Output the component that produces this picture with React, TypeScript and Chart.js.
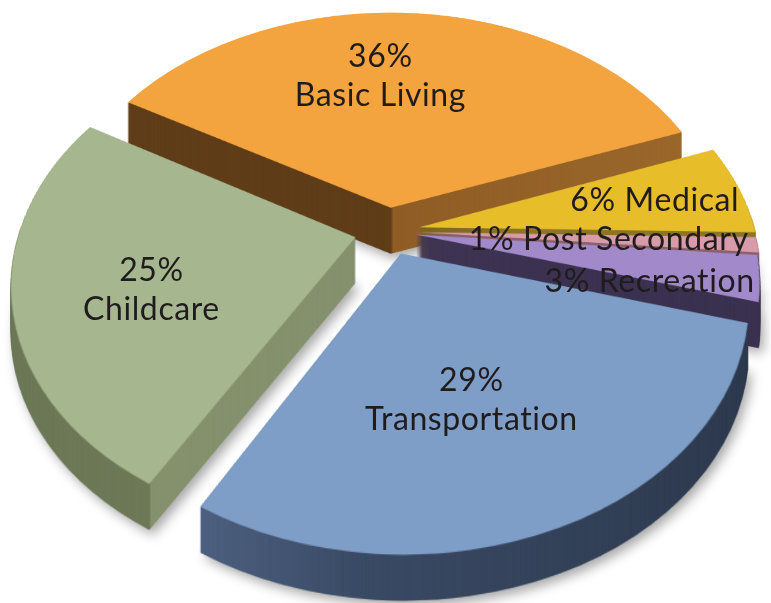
import React, { useEffect, useRef } from 'react';
import { Chart, registerables } from 'chart.js';

Chart.register(...registerables);

// ---- data ----
const CATEGORIES = ['Basic Living', 'Medical', 'Post Secondary', 'Recreation', 'Transportation', 'Childcare'];
const PERCENTS = [36, 6, 1, 3, 29, 25];

// ---- styles ----
const TOP_COLORS = ['#F3A43F', '#E7BD2A', '#D89BAA', '#A28ACA', '#7E9EC7', '#A6B68F'];
const SIDE_COLORS: string[][] = [
  ['#5F3D18', '#8F5D25', '#9A672B'],
  ['#7A6521', '#8C7526', '#8C7526'],
  ['#8C5F69', '#8C5F69', '#8C5F69'],
  ['#3F3553', '#3C3251', '#3A3150'],
  ['#4D6080', '#3A4A64', '#2E3A4F'],
  ['#6D7957', '#85916E', '#85916E'],
];
const SIDE_SPLIT = ['apex', 'none', 'none', 'none', 'none', 'start'];
const EXPLODE = [0.1, 0.095, 0.09, 0.085, 0.1, 0.1];
const LABEL_LAYOUT = [
  { f: 0.64, dx: -26, dy: 0, align: 'center', two: true },
  { f: 1.0, dx: 0, dy: 12, align: 'right', two: false },
  { f: 1.0, dx: -9, dy: -5, align: 'right', two: false },
  { f: 1.0, dx: -5, dy: 3, align: 'right', two: false },
  { f: 0.58, dx: -14, dy: 0, align: 'center', two: true },
  { f: 0.605, dx: 0, dy: 14, align: 'center', two: true },
];

// perspective projection of the pie plane
const PROJ = { ox: 388, oy: 231, hx: 336, hy: 238, p: 0.18, depth: 46 };

function project(U: number, V: number) {
  const w = 1 - PROJ.p * V;
  return { x: PROJ.ox + (PROJ.hx * U) / w, y: PROJ.oy + (PROJ.hy * V) / w };
}
function vAtRow(y: number) {
  const t = (y - PROJ.oy) / PROJ.hy;
  return t / (1 + PROJ.p * t);
}

const pie3d = {
  id: 'pie3d',
  beforeDatasetsDraw(chart: any) {
    const meta = chart.getDatasetMeta(0);
    const arcs = meta.data as any[];
    if (!arcs.length) return false;
    const cw = chart.width;
    const ch = chart.height;
    const ctx: CanvasRenderingContext2D = chart.ctx;
    const mk = (w: number, h: number) => {
      const c = document.createElement('canvas');
      c.width = w;
      c.height = h;
      return c;
    };
    const r0 = arcs[0].outerRadius;
    const S = Math.ceil(2 * r0 * 1.2 + 20);
    const C = S / 2;
    const flat = mk(S, S);
    const proj = mk(cw, ch);
    const side = mk(cw, ch);
    const fctx = flat.getContext('2d')!;
    const pctx = proj.getContext('2d')!;
    const sctx = side.getContext('2d')!;
    const halfOf = (a: any) => (a.startAngle + a.endAngle) / 2;
    const order = arcs.map((_, i) => i).sort((i, j) => Math.sin(halfOf(arcs[i])) - Math.sin(halfOf(arcs[j])));

    for (const i of order) {
      const a = arcs[i];
      const r = a.outerRadius;
      const E = EXPLODE[i];
      const half = halfOf(a);
      // flat slice, chart centre moved to the middle of the flat canvas
      fctx.clearRect(0, 0, S, S);
      fctx.save();
      fctx.translate(C - a.x + Math.cos(half) * E * r, C - a.y + Math.sin(half) * E * r);
      a.draw(fctx);
      fctx.restore();
      // warp rows into perspective
      pctx.clearRect(0, 0, cw, ch);
      pctx.imageSmoothingEnabled = true;
      for (let y = 0; y < ch; y++) {
        const V0 = vAtRow(y);
        const V1 = vAtRow(y + 1);
        const sy0 = C + V0 * r;
        const sh = (V1 - V0) * r;
        if (sy0 < 0 || sy0 + sh > S) continue;
        const w = 1 - (PROJ.p * (V0 + V1)) / 2;
        const s = PROJ.hx / (w * r);
        pctx.drawImage(flat, 0, sy0, S, sh, PROJ.ox - C * s, y, S * s, 1);
      }
      // geometry for side shading
      const apU = Math.cos(half) * E;
      const apV = Math.sin(half) * E;
      const apex = project(apU, apV);
      let minX = apex.x;
      let maxX = apex.x;
      const N = 60;
      for (let k = 0; k <= N; k++) {
        const ang = a.startAngle + ((a.endAngle - a.startAngle) * k) / N;
        const p = project(apU + Math.cos(ang), apV + Math.sin(ang));
        minX = Math.min(minX, p.x);
        maxX = Math.max(maxX, p.x);
      }
      const startPt = project(apU + Math.cos(a.startAngle), apV + Math.sin(a.startAngle));
      const cols = SIDE_COLORS[i];
      const grad = sctx.createLinearGradient(minX, 0, maxX, 0);
      const span = Math.max(1, maxX - minX);
      if (SIDE_SPLIT[i] === 'apex' || SIDE_SPLIT[i] === 'start') {
        const sx = SIDE_SPLIT[i] === 'apex' ? apex.x : startPt.x;
        const t = Math.min(0.98, Math.max(0.02, (sx - minX) / span));
        grad.addColorStop(0, cols[0]);
        grad.addColorStop(t, cols[0]);
        grad.addColorStop(t + 0.005, cols[1]);
        grad.addColorStop(1, cols[2]);
      } else {
        grad.addColorStop(0, cols[0]);
        grad.addColorStop(0.3, cols[1]);
        grad.addColorStop(1, cols[2]);
      }
      sctx.clearRect(0, 0, cw, ch);
      sctx.globalCompositeOperation = 'source-over';
      sctx.drawImage(proj, 0, 0);
      sctx.globalCompositeOperation = 'source-in';
      sctx.fillStyle = grad;
      sctx.fillRect(0, 0, cw, ch);
      sctx.globalCompositeOperation = 'source-over';

      ctx.save();
      for (let d = PROJ.depth; d >= 1; d--) {
        if (d === PROJ.depth) {
          ctx.shadowColor = 'rgba(0,0,0,0.35)';
          ctx.shadowBlur = 12;
          ctx.shadowOffsetX = 4;
          ctx.shadowOffsetY = 5;
        } else {
          ctx.shadowColor = 'rgba(0,0,0,0)';
          ctx.shadowBlur = 0;
          ctx.shadowOffsetX = 0;
          ctx.shadowOffsetY = 0;
        }
        ctx.drawImage(side, 0, d);
      }
      ctx.drawImage(proj, 0, 0);
      ctx.restore();
    }

    // labels
    const ds = chart.data.datasets[0];
    const labels = chart.data.labels as string[];
    ctx.save();
    ctx.fillStyle = '#201C1D';
    ctx.font = '32px Lato, "Open Sans", sans-serif';
    try {
      (ctx as any).letterSpacing = '0.6px';
    } catch (e) {
      /* ignore */
    }
    ctx.textBaseline = 'middle';
    arcs.forEach((a, i) => {
      const L = LABEL_LAYOUT[i];
      const half = halfOf(a);
      const g = L.f + EXPLODE[i];
      const p = project(Math.cos(half) * g, Math.sin(half) * g);
      const x = p.x + L.dx;
      const y = p.y + L.dy;
      const pct = `${ds.data[i]}%`;
      ctx.textAlign = L.align as CanvasTextAlign;
      if (L.two) {
        ctx.fillText(pct, x, y - 19.5);
        ctx.fillText(labels[i], x, y + 19.5);
      } else {
        ctx.fillText(`${pct} ${labels[i]}`, x, y);
      }
    });
    ctx.restore();
    return false;
  },
};

export default function App() {
  const ref = useRef<HTMLCanvasElement | null>(null);
  useEffect(() => {
    document.body.style.margin = '0';
    const canvas = ref.current;
    if (!canvas) return;
    const chart = new Chart(canvas, {
      type: 'pie',
      data: {
        labels: CATEGORIES,
        datasets: [
          {
            data: PERCENTS,
            backgroundColor: TOP_COLORS,
            borderWidth: 0,
            offset: 0,
            hoverOffset: 0,
          },
        ],
      },
      options: {
        responsive: false,
        animation: false,
        rotation: -60,
        layout: { padding: 0 },
        events: [],
        plugins: {
          legend: { display: false },
          tooltip: { enabled: false },
        },
      },
      plugins: [pie3d],
    });
    return () => chart.destroy();
  }, []);
  return (
    <div style={{ width: 771, height: 603, background: '#ffffff' }}>
      <canvas ref={ref} width={771} height={603} style={{ display: 'block' }} />
    </div>
  );
}
